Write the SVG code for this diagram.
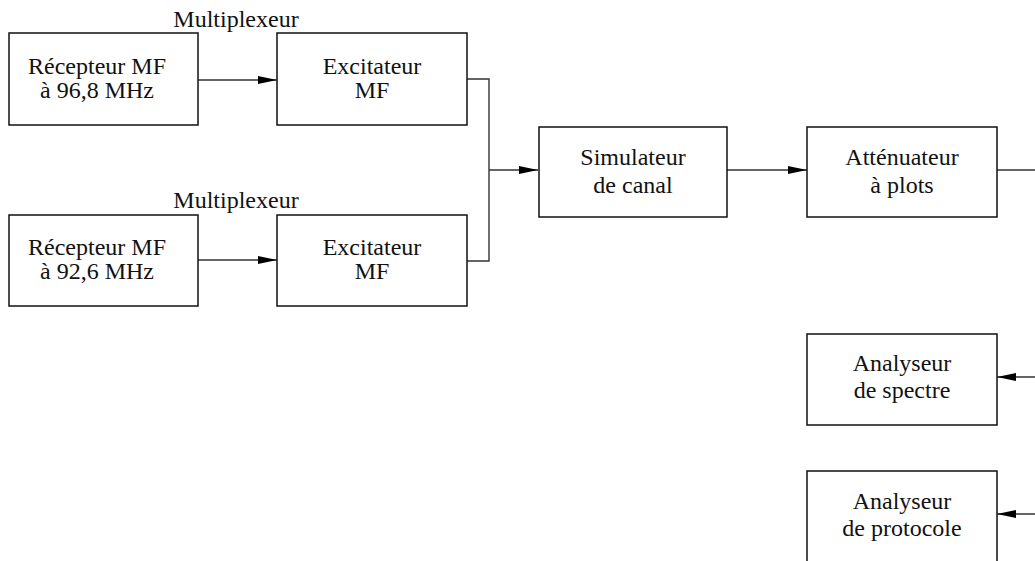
<svg xmlns="http://www.w3.org/2000/svg" width="1035" height="561" viewBox="0 0 1035 561">
<style>
.box{fill:#fff;stroke:#111;stroke-width:1.5}
.t{font-family:"Liberation Serif","Times New Roman",serif;font-size:24px;fill:#111;text-anchor:middle}
.c{fill:none;stroke:#333;stroke-width:1.4}
</style>
<defs>
<marker id="ah" markerUnits="userSpaceOnUse" markerWidth="20" markerHeight="9" refX="19" refY="4" orient="auto">
<path d="M0,0 L19,4 L0,8 z" fill="#000"/>
</marker>
</defs>
<rect width="1035" height="561" fill="#fff"/>
<g id="connectors">
<line class="c" x1="198" y1="80" x2="277" y2="80" marker-end="url(#ah)"/>
<line class="c" x1="198" y1="260" x2="277" y2="260" marker-end="url(#ah)"/>
<polyline class="c" points="467,79 489,79 489,261 467,261"/>
<line class="c" x1="489" y1="170" x2="538" y2="170" marker-end="url(#ah)"/>
<line class="c" x1="727" y1="170" x2="807" y2="170" marker-end="url(#ah)"/>
<line class="c" x1="997" y1="170" x2="1036" y2="170"/>
<line class="c" x1="1036" y1="377" x2="997" y2="377" marker-end="url(#ah)"/>
<line class="c" x1="1036" y1="514" x2="997" y2="514" marker-end="url(#ah)"/>
</g>
<g id="label-mux1"><text class="t" x="236" y="27">Multiplexeur</text></g>
<g id="label-mux2"><text class="t" x="236" y="208">Multiplexeur</text></g>
<g id="recepteur1">
<rect class="box" x="9" y="33" width="189" height="92"/>
<text class="t" x="97" y="74">Récepteur MF</text>
<text class="t" x="97" y="98">à 96,8 MHz</text>
</g>
<g id="excitateur1">
<rect class="box" x="277" y="33" width="190" height="92"/>
<text class="t" x="372" y="74">Excitateur</text>
<text class="t" x="372" y="98">MF</text>
</g>
<g id="recepteur2">
<rect class="box" x="9" y="215" width="189" height="91"/>
<text class="t" x="97" y="255">Récepteur MF</text>
<text class="t" x="97" y="279">à 92,6 MHz</text>
</g>
<g id="excitateur2">
<rect class="box" x="277" y="215" width="190" height="91"/>
<text class="t" x="372" y="255">Excitateur</text>
<text class="t" x="372" y="279">MF</text>
</g>
<g id="simulateur">
<rect class="box" x="539" y="127" width="188" height="90"/>
<text class="t" x="633" y="165">Simulateur</text>
<text class="t" x="633" y="193">de canal</text>
</g>
<g id="attenuateur">
<rect class="box" x="807" y="127" width="190" height="90"/>
<text class="t" x="902" y="165">Atténuateur</text>
<text class="t" x="902" y="193">à plots</text>
</g>
<g id="spectre">
<rect class="box" x="807" y="334" width="190" height="91"/>
<text class="t" x="902" y="371">Analyseur</text>
<text class="t" x="902" y="398">de spectre</text>
</g>
<g id="protocole">
<rect class="box" x="807" y="471" width="190" height="92"/>
<text class="t" x="902" y="509">Analyseur</text>
<text class="t" x="902" y="536">de protocole</text>
</g>
</svg>
